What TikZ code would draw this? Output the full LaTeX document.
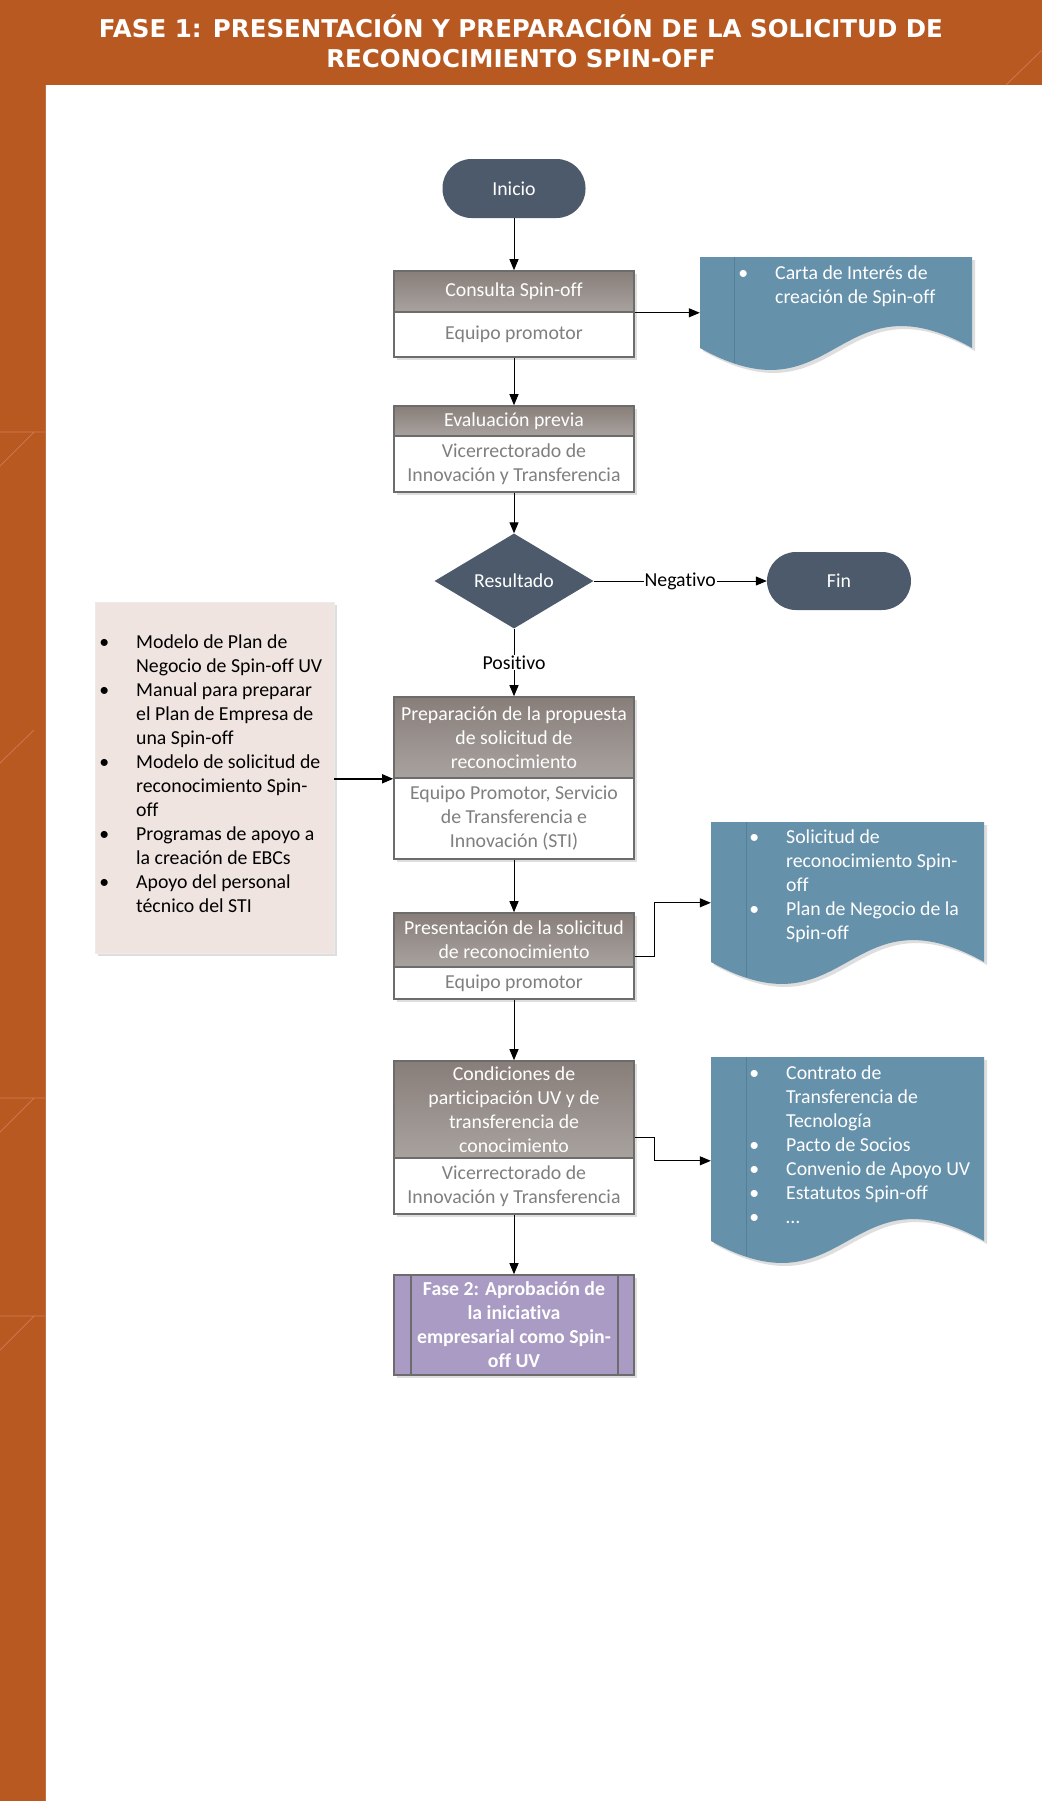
\documentclass[tikz,border=0pt]{standalone}
\usepackage{fontspec}
\setmainfont{Carlito}[Ligatures=NoCommon]
\newfontfamily\titlefont{DejaVu Sans}
\usetikzlibrary{shapes.geometric,arrows.meta,calc,shadows}
\definecolor{orng}{RGB}{185,89,34}
\definecolor{orngline}{RGB}{205,125,85}
\definecolor{slate}{RGB}{76,90,107}
\definecolor{hdrtop}{RGB}{136,126,121}
\definecolor{hdrbot}{RGB}{168,162,159}
\definecolor{boxline}{RGB}{108,108,108}
\definecolor{bodytxt}{RGB}{127,127,127}
\definecolor{docblue}{RGB}{102,145,170}
\definecolor{docline}{RGB}{86,126,150}
\definecolor{pinkbox}{RGB}{239,228,224}
\definecolor{purp}{RGB}{169,155,195}
\definecolor{shadowc}{RGB}{222,222,222}
\newcommand\bfz{\fontsize{19.8bp}{24bp}\selectfont}
\newcommand\bul{\makebox[32bp][l]{\makebox[0pt]{•}}}
\newcommand\docshape[5]{\path[#1] (#2,#3) -- (#4,#3) -- (#4,#5) .. controls ({(#2+#4)/2},{#5-76}) and ({(#2+#4)/2},{#5+76}) .. (#2,#5) -- cycle;}
\begin{document}
\begin{tikzpicture}[x=1bp,y=-1bp,
  arr/.style={-{Triangle[length=11bp,width=9bp]}, line width=1bp, black},
  sh/.style={drop shadow={shadow xshift=3bp,shadow yshift=-3bp,fill=black!13,opacity=1}},
  hdr/.style={rectangle, draw=boxline, line width=1.6bp, minimum width=240bp, inner xsep=2bp, inner ysep=0bp, top color=hdrtop, bottom color=hdrbot, text=white, align=center, font=\bfz},
  bodyb/.style={rectangle, draw=boxline, line width=1.6bp, fill=white, minimum width=240bp, inner xsep=2bp, inner ysep=0bp, text=bodytxt, align=center, font=\bfz},
  pill/.style={rectangle, rounded corners=29bp, fill=slate, text=white, font=\bfz, minimum width=143bp, minimum height=59bp},
  lbl/.style={fill=white, inner sep=1bp, font=\bfz, text=black},
  title/.style={text=white, font=\titlefont\bfseries\fontsize{24.5bp}{30bp}\selectfont, inner sep=0},
  doctext/.style={anchor=north west, inner sep=0, font=\bfz, text=white},
  sep/.style={orngline, line width=0.7bp}
]
\useasboundingbox (0,0) rectangle (1042,1801);
\fill[white] (0,0) rectangle (1042,1801);
% frame
\fill[orng] (0,0) rectangle (1042,85);
\fill[orng] (0,85) rectangle (45,1801);
\draw[sep] (1042,50) -- (1006,85);
\draw[sep] (0,432) -- (45,432) (34,432) -- (0,466);
\draw[sep] (34,730) -- (0,763);
\draw[sep] (0,1098) -- (45,1098) (34,1098) -- (0,1132);
\draw[sep] (0,1316) -- (45,1316) (34,1316) -- (0,1350);
\draw[orngline!60!orng, line width=0.6bp] (45,85) -- (45,1801);
% title
\node[title, anchor=base] (t1) at (521,37) {FASE 1: PRESENTACIÓN Y PREPARACIÓN DE LA SOLICITUD DE};
\node[title, anchor=base] (t2) at (521,67) {RECONOCIMIENTO SPIN-OFF};
% flow
\node[pill] (ini) at (514,188.5) {Inicio};
\node[hdr, sh, minimum height=41bp] (c1h) at (514,291.5) {Consulta Spin-off};
\node[bodyb, sh, minimum height=45bp] (c1b) at (514,334.5) {Equipo promotor};
\node[hdr, sh, minimum height=30bp] (e1h) at (514,421) {Evaluación previa};
\node[bodyb, sh, minimum height=56bp] (e1b) at (514,464) {Vicerrectorado de\\Innovación y Transferencia};
\node[diamond, aspect=1.67, inner sep=0, minimum width=159bp, minimum height=95bp, fill=slate, text=white, font=\bfz] (res) at (514,581) {Resultado};
\node[pill, minimum width=144bp, minimum height=58bp] (fin) at (839,581) {Fin};
\node[hdr, sh, minimum height=81bp] (p1h) at (514,737.5) {Preparación de la propuesta\\de solicitud de\\reconocimiento};
\node[bodyb, sh, minimum height=81bp] (p1b) at (514,818.5) {Equipo Promotor, Servicio\\de Transferencia e\\Innovación (STI)};
\node[hdr, sh, minimum height=54bp] (p2h) at (514,940) {Presentación de la solicitud\\de reconocimiento};
\node[bodyb, sh, minimum height=32bp] (p2b) at (514,983) {Equipo promotor};
\node[hdr, sh, minimum height=97bp] (p3h) at (514,1109.5) {Condiciones de\\participación UV y de\\transferencia de\\conocimiento};
\node[bodyb, sh, minimum height=56bp] (p3b) at (514,1186) {Vicerrectorado de\\Innovación y Transferencia};
\node[rectangle, sh, draw=boxline, line width=1.6bp, fill=purp, minimum width=240bp, minimum height=100bp, inner sep=0, text=white, align=center, font=\bfz\bfseries] (f2) at (514,1325) {Fase 2: Aprobación de\\la iniciativa\\empresarial como Spin-\\off UV};
\draw[boxline, line width=1.6bp] ([xshift=18bp]f2.north west) -- ([xshift=18bp]f2.south west) ([xshift=-17bp]f2.north east) -- ([xshift=-17bp]f2.south east);
% resources box
\node[rectangle, draw=black!8, fill=pinkbox, sh, minimum width=239bp, minimum height=351bp, inner sep=0] (rec) at (214.5,777.5) {};
\node[doctext, text=black] (rect) at (104,631) {\begin{tabular}{@{}l@{}l@{}}
\bul & Modelo de Plan de\\
 & Negocio de Spin-off UV\\
\bul & Manual para preparar\\
 & el Plan de Empresa de\\
 & una Spin-off\\
\bul & Modelo de solicitud de\\
 & reconocimiento Spin-\\
 & off\\
\bul & Programas de apoyo a\\
 & la creación de EBCs\\
\bul & Apoyo del personal\\
 & técnico del STI
\end{tabular}};
% documents
\docshape{fill=shadowc}{703}{260}{975}{351}
\docshape{fill=docblue}{700}{257}{972}{348}
\draw[docline, line width=0.8bp] (734,257) -- (734,363);
\node[inner sep=0, minimum width=272bp, minimum height=91bp] (doc1) at (836,302.5) {};
\node[doctext] (doc1t) at (743,262) {\begin{tabular}{@{}l@{}l@{}}
\bul & Carta de Interés de\\
 & creación de Spin-off
\end{tabular}};
\docshape{fill=shadowc}{714}{825}{987}{965}
\docshape{fill=docblue}{711}{822}{984}{962}
\draw[docline, line width=0.8bp] (746,822) -- (746,977);
\node[inner sep=0, minimum width=273bp, minimum height=140bp] (doc2) at (847.5,892) {};
\node[doctext] (doc2t) at (754,826) {\begin{tabular}{@{}l@{}l@{}}
\bul & Solicitud de\\
 & reconocimiento Spin-\\
 & off\\
\bul & Plan de Negocio de la\\
 & Spin-off
\end{tabular}};
\docshape{fill=shadowc}{714}{1060}{987}{1244}
\docshape{fill=docblue}{711}{1057}{984}{1241}
\draw[docline, line width=0.8bp] (746,1057) -- (746,1256);
\node[inner sep=0, minimum width=273bp, minimum height=184bp] (doc3) at (847.5,1149) {};
\node[doctext] (doc3t) at (754,1062) {\begin{tabular}{@{}l@{}l@{}}
\bul & Contrato de\\
 & Transferencia de\\
 & Tecnología\\
\bul & Pacto de Socios\\
\bul & Convenio de Apoyo UV\\
\bul & Estatutos Spin-off\\
\bul & …
\end{tabular}};
% connectors
\draw[arr] (ini) -- (c1h);
\draw[arr] (c1h.south east) -- (c1h.south east -| doc1.west);
\draw[arr] (c1b) -- (e1h);
\draw[arr] (e1b) -- (res);
\draw[arr] (res) -- node[lbl]{Negativo} (fin);
\draw[arr] (res) -- node[lbl]{Positivo} (p1h);
\draw[arr, line width=1.4bp] (rec.east |- p1h.south west) -- (p1h.south west);
\draw[arr] (p1b) -- (p2h);
\draw[arr] ([yshift=-16bp]p2h.east) -- ++(20,0) |- ($(doc2.north west)+(0,81)$);
\draw[arr] (p2b) -- (p3h);
\draw[arr] ([yshift=-27.5bp]p3h.east) -- ++(20,0) |- ($(doc3.north west)+(0,104)$);
\draw[arr] (p3b) -- (f2);
\end{tikzpicture}
\end{document}
